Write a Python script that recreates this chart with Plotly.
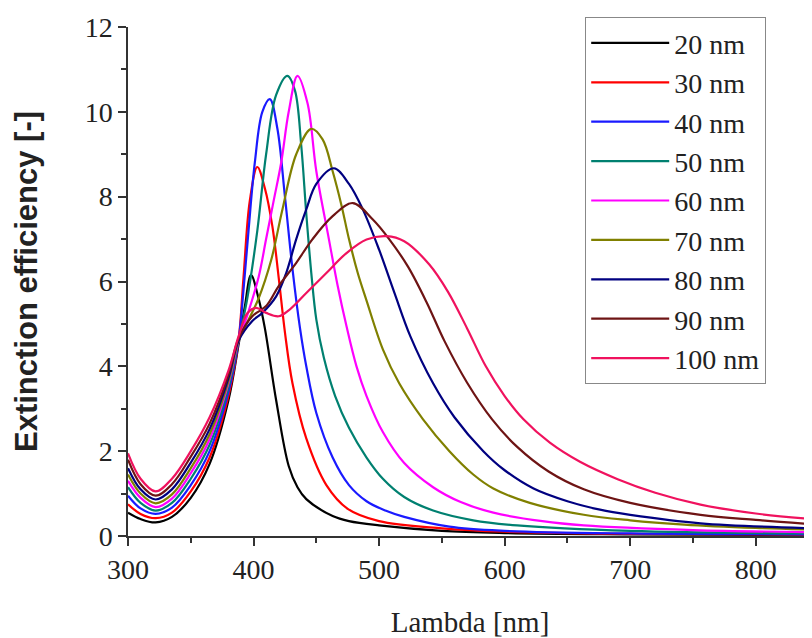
import plotly.graph_objects as go

# ---- data (wavelength in nm, extinction efficiency) ----
names = ["20 nm", "30 nm", "40 nm", "50 nm", "60 nm", "70 nm", "80 nm", "90 nm", "100 nm"]
colors = ["#000000", "#ff0000", "#1a1aff", "#008070", "#ff00ff", "#808000", "#000080", "#6e1414", "#f0125e"]

lam_20 = [300, 310, 322, 335, 350, 365, 380, 388, 393, 398, 404, 409, 418, 428, 435, 442, 463, 476, 500, 550, 600, 700, 845]
q_20 = [0.55, 0.40, 0.32, 0.45, 0.90, 1.70, 3.20, 4.50, 5.40, 6.15, 5.60, 4.90, 3.20, 1.65, 1.15, 0.87, 0.47, 0.35, 0.25, 0.12, 0.07, 0.04, 0.02]

lam_30 = [300, 310, 322, 335, 350, 365, 380, 388, 392, 397, 403, 409, 415, 420, 425, 431, 442, 458, 475, 500, 550, 600, 700, 845]
q_30 = [0.75, 0.52, 0.42, 0.55, 1.05, 1.85, 3.30, 4.60, 6.10, 7.90, 8.70, 8.20, 7.30, 6.10, 4.80, 3.60, 2.30, 1.20, 0.64, 0.35, 0.18, 0.10, 0.05, 0.03]

lam_40 = [300, 310, 322, 335, 350, 365, 380, 388, 392, 396, 401, 407, 413, 419, 425, 431, 437, 442, 450, 463, 476, 490, 505, 520, 556, 600, 700, 845]
q_40 = [0.95, 0.65, 0.52, 0.67, 1.20, 2.00, 3.40, 4.60, 5.80, 7.20, 8.80, 10.00, 10.30, 9.60, 8.00, 6.30, 4.90, 4.00, 2.90, 1.85, 1.20, 0.82, 0.60, 0.45, 0.22, 0.12, 0.06, 0.04]

lam_50 = [300, 310, 322, 335, 350, 365, 380, 388, 395, 403, 410, 418, 427, 433, 438, 442, 446, 450, 456, 465, 476, 490, 503, 520, 543, 575, 610, 700, 845]
q_50 = [1.15, 0.78, 0.60, 0.78, 1.35, 2.15, 3.50, 4.60, 5.60, 7.20, 9.00, 10.40, 10.85, 10.50, 9.20, 7.60, 6.20, 5.10, 4.20, 3.30, 2.55, 1.85, 1.35, 0.92, 0.60, 0.37, 0.25, 0.12, 0.06]

lam_60 = [300, 310, 322, 335, 350, 365, 380, 388, 395, 404, 410, 416, 422, 428, 435, 443, 450, 460, 467, 474, 482, 490, 503, 520, 543, 565, 591, 630, 663, 750, 845]
q_60 = [1.30, 0.90, 0.68, 0.88, 1.48, 2.28, 3.60, 4.60, 5.20, 6.10, 7.00, 7.90, 8.80, 10.00, 10.85, 10.20, 8.60, 7.00, 5.90, 4.95, 4.00, 3.30, 2.45, 1.72, 1.15, 0.80, 0.55, 0.35, 0.25, 0.14, 0.09]

lam_70 = [300, 310, 322, 335, 350, 365, 380, 388, 396, 404, 414, 423, 434, 446, 455, 463, 470, 476, 483, 490, 503, 516, 535, 556, 575, 591, 620, 663, 700, 743, 800, 845]
q_70 = [1.45, 1.00, 0.77, 0.98, 1.60, 2.40, 3.65, 4.60, 5.10, 5.60, 6.50, 7.70, 9.00, 9.60, 9.35, 8.60, 7.80, 7.00, 6.20, 5.55, 4.40, 3.60, 2.75, 2.00, 1.45, 1.12, 0.78, 0.50, 0.37, 0.27, 0.19, 0.15]

lam_80 = [300, 310, 322, 335, 350, 365, 380, 388, 399, 407, 418, 426, 434, 442, 450, 464, 476, 487, 500, 512, 525, 543, 560, 583, 600, 623, 650, 676, 700, 756, 845]
q_80 = [1.60, 1.10, 0.86, 1.10, 1.73, 2.52, 3.72, 4.60, 5.07, 5.26, 5.65, 6.20, 7.00, 7.70, 8.30, 8.67, 8.30, 7.70, 6.75, 5.75, 4.70, 3.60, 2.80, 2.00, 1.55, 1.12, 0.82, 0.62, 0.50, 0.30, 0.18]

lam_90 = [300, 310, 322, 335, 350, 365, 380, 388, 399, 410, 420, 434, 447, 463, 479, 495, 508, 523, 538, 552, 570, 590, 610, 635, 663, 700, 756, 800, 845]
q_90 = [1.80, 1.22, 0.95, 1.22, 1.87, 2.65, 3.80, 4.65, 5.18, 5.42, 5.89, 6.44, 7.00, 7.54, 7.85, 7.46, 7.00, 6.35, 5.50, 4.60, 3.62, 2.75, 2.10, 1.52, 1.10, 0.78, 0.50, 0.38, 0.28]

lam_100 = [300, 310, 322, 335, 350, 365, 380, 388, 395, 402, 410, 420, 428, 442, 458, 474, 490, 506, 520, 540, 555, 570, 585, 600, 615, 636, 660, 690, 720, 756, 800, 845]
q_100 = [1.95, 1.35, 1.05, 1.35, 2.00, 2.80, 3.90, 4.70, 5.25, 5.38, 5.26, 5.18, 5.32, 5.73, 6.20, 6.67, 6.99, 7.07, 6.95, 6.40, 5.75, 4.90, 4.00, 3.30, 2.75, 2.20, 1.75, 1.34, 1.02, 0.74, 0.53, 0.40]

lams = [lam_20, lam_30, lam_40, lam_50, lam_60, lam_70, lam_80, lam_90, lam_100]
qs = [q_20, q_30, q_40, q_50, q_60, q_70, q_80, q_90, q_100]

x_ticks = [300, 400, 500, 600, 700, 800]
y_ticks = [0, 2, 4, 6, 8, 10, 12]

fig = go.Figure()
for name, col, lx, qy in zip(names, colors, lams, qs):
    fig.add_trace(go.Scatter(
        x=lx, y=qy, name=name, mode="lines",
        line=dict(color=col, width=2.2, shape="spline", smoothing=1.0),
    ))

serif = "Liberation Serif, Times New Roman, serif"
axcol = "#333"

# the page body has an 8 px margin, so the figure is 8 px smaller than the window
W, H = 804, 630
L, T, B = 120, 19, 102
pw, ph = W - L, H - T - B

fig.update_layout(
    width=W, height=H,
    margin=dict(l=L, r=0, t=T, b=B),
    paper_bgcolor="white", plot_bgcolor="white",
    font=dict(family=serif, size=28, color="#222"),
    showlegend=True,
    legend=dict(
        x=(577 - L) / pw, y=(ph - (9 - T)) / ph, xanchor="left", yanchor="top",
        bgcolor="white", bordercolor="#888", borderwidth=1.2,
        font=dict(family=serif, size=28, color="#222"),
        tracegroupgap=0, itemwidth=78, maxheight=600,
    ),
    xaxis=dict(
        range=[300, 844.8], tickvals=x_ticks, ticktext=[str(v) for v in x_ticks],
        ticks="outside", ticklen=8, tickwidth=1.5, tickcolor=axcol,
        minor=dict(dtick=50, ticks="outside", ticklen=5, tickwidth=1.5, tickcolor=axcol),
        showline=True, linecolor=axcol, linewidth=1.5, mirror=False,
        showgrid=False, zeroline=False, automargin=False,
        tickfont=dict(family=serif, size=28, color="#222"),
        title=dict(text="Lambda [nm]", font=dict(family=serif, size=29, color="#222"), standoff=28),
    ),
    yaxis=dict(
        range=[0, 12], tickvals=y_ticks, ticktext=[str(v) for v in y_ticks],
        ticks="outside", ticklen=8, tickwidth=1.5, tickcolor=axcol,
        minor=dict(dtick=1, ticks="outside", ticklen=5, tickwidth=1.5, tickcolor=axcol),
        showline=True, linecolor=axcol, linewidth=1.5, mirror=False,
        showgrid=False, zeroline=False, automargin=False,
        tickfont=dict(family=serif, size=28, color="#222"),
        title=dict(text="<b>Extinction efficiency [-]</b>",
                   font=dict(family="Liberation Sans, Arial, sans-serif", size=31, color="#222"), standoff=38),
    ),
)

fig.write_html("out.html")
